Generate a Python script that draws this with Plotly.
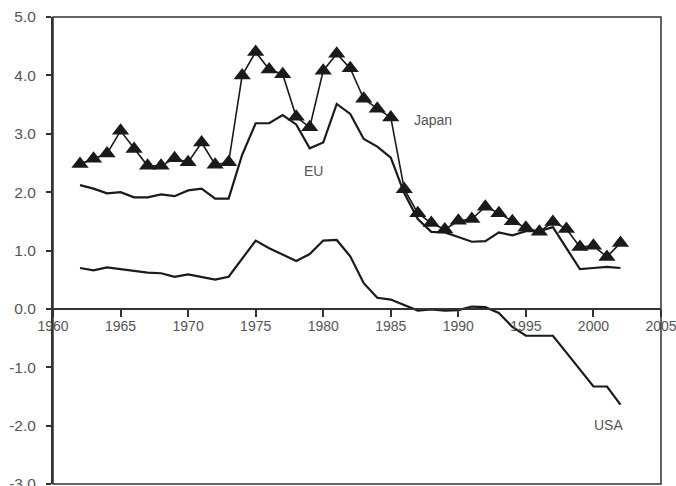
import plotly.graph_objects as go

years = list(range(1962, 2003))

japan = [2.48, 2.57, 2.66, 3.05, 2.74, 2.45, 2.45, 2.58, 2.51, 2.85, 2.47, 2.51,
         4.00, 4.40, 4.10, 4.02, 3.29, 3.11, 4.08, 4.37, 4.12, 3.60, 3.43, 3.28,
         2.05, 1.64, 1.47, 1.36, 1.51, 1.54, 1.75, 1.64, 1.50, 1.39, 1.32, 1.49,
         1.37, 1.06, 1.08, 0.89, 1.13]

eu = [2.12, 2.06, 1.98, 2.00, 1.91, 1.91, 1.96, 1.93, 2.03, 2.06, 1.89, 1.89,
      2.64, 3.18, 3.18, 3.32, 3.16, 2.75, 2.85, 3.51, 3.34, 2.91, 2.78, 2.59,
      1.98, 1.54, 1.32, 1.31, 1.23, 1.15, 1.16, 1.31, 1.26, 1.33, 1.33, 1.40,
      1.04, 0.68, 0.70, 0.72, 0.70]

usa = [0.70, 0.66, 0.71, 0.68, 0.66, 0.62, 0.61, 0.55, 0.59, 0.54, 0.50, 0.55,
       0.86, 1.17, 1.04, 0.93, 0.82, 0.94, 1.17, 1.18, 0.90, 0.44, 0.19, 0.16,
       0.07, -0.03, -0.01, -0.03, -0.02, 0.04, 0.03, -0.07, -0.31, -0.46, -0.46, -0.46,
       -0.75, -1.04, -1.33, -1.33, -1.64]

x_ticks = [1960, 1965, 1970, 1975, 1980, 1985, 1990, 1995, 2000, 2005]
y_ticks = [-3, -2, -1, 0, 1, 2, 3, 4, 5]

labels = ["Japan", "EU", "USA"]
label_x = [1988.1, 1979.3, 2001.1]
label_y = [3.24, 2.36, -1.99]

NARROW = "Liberation Sans Narrow, Arial Narrow, Liberation Sans, sans-serif"
REG = "Liberation Sans, Arial, sans-serif"
LINE = "#1a1a1a"
TXT = "#555555"

fig = go.Figure()
fig.add_trace(go.Scatter(x=years, y=usa, mode="lines",
                         line=dict(color=LINE, width=2.2), name="USA"))
fig.add_trace(go.Scatter(x=years, y=eu, mode="lines",
                         line=dict(color=LINE, width=2.2), name="EU"))
fig.add_trace(go.Scatter(x=years, y=japan, mode="lines+markers",
                         line=dict(color=LINE, width=1.6),
                         marker=dict(symbol="triangle-up", size=15, color=LINE),
                         name="Japan"))

for t, lx, ly in zip(labels, label_x, label_y):
    fig.add_annotation(x=lx, y=ly, text=t, showarrow=False,
                       font=dict(family=REG, size=14, color=TXT))

# frame around plot area
fig.add_shape(type="rect", xref="paper", yref="paper", x0=0, x1=1, y0=0, y1=1,
              line=dict(color="#333333", width=1.5), layer="above")

fig.update_layout(
    width=676, height=486,
    margin=dict(l=53, r=15, t=17, b=2, autoexpand=False),
    paper_bgcolor="white", plot_bgcolor="white",
    showlegend=False,
    font=dict(family=REG, size=13, color=TXT),
    xaxis=dict(range=[1960, 2005], tickvals=x_ticks,
               ticktext=[str(v) for v in x_ticks],
               anchor="free", position=3/8, side="bottom", automargin=False,
               showline=True, linecolor="#333333", linewidth=2,
               ticks="outside", ticklen=7, tickwidth=1.5, tickcolor="#333333",
               showgrid=False, zeroline=False, ticklabeloverflow="allow",
               ticklabelstandoff=-3,
               tickfont=dict(family=NARROW, size=14, color=TXT)),
    yaxis=dict(range=[-3, 5], tickvals=y_ticks,
               ticktext=[f"{v:.1f}" for v in y_ticks], automargin=False,
               showline=True, linecolor="#333333", linewidth=2,
               ticks="outside", ticklen=5, tickwidth=1.5, tickcolor="#333333",
               showgrid=False, zeroline=False, ticklabeloverflow="allow",
               ticklabelstandoff=7,
               tickfont=dict(family=REG, size=15.5, color=TXT)),
)

fig.write_html("out.html", config={"displayModeBar": False},
               post_script="document.body.style.margin='0';document.body.style.overflow='hidden';")
